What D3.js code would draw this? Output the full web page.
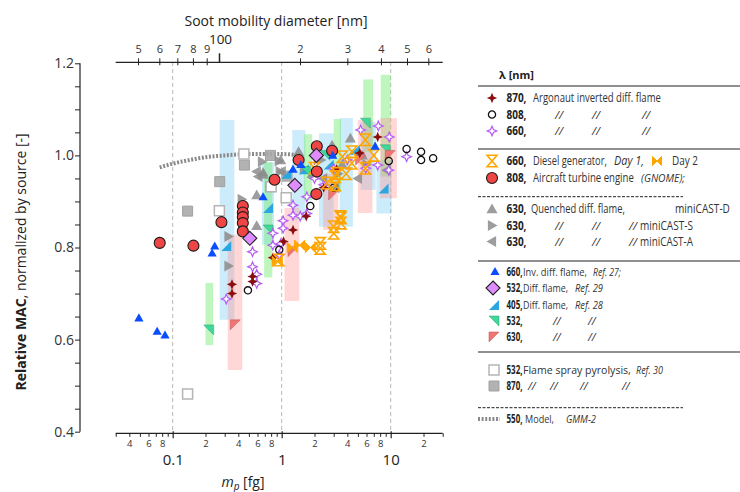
<!DOCTYPE html>
<html><head><meta charset="utf-8">
<script src="https://cdn.jsdelivr.net/npm/d3@7"></script>
<style>body{margin:0;background:#fff}svg{display:block;font-family:"Open Sans",sans-serif}</style>
</head><body><svg id="c" width="740" height="492"></svg>
<script>
// ---------------- DATA: [particle mass m_p (fg), relative MAC] ----------------
const argonaut870 = [[0.35,0.72],[0.35,0.70],[0.54,0.737],[0.54,0.726],[0.83,0.778],[1.04,0.813],[1.27,0.838],[1.68,0.868],[2.43,0.93],[5.2,1.005],[7.6,1.04],[3.2,0.97]];
const argonaut808 = [[0.49,0.707],[0.95,0.795],[1.83,0.89],[3.0,0.93],[9.6,0.988],[14,1.014],[19,1.008],[19,0.99],[24.5,0.994]];
const argonaut660 = [[0.31,0.688],[0.54,0.791],[0.54,0.758],[0.59,0.742],[0.59,0.722],[0.83,0.831],[0.83,0.805],[0.95,0.784],[0.98,0.808],[1.03,0.858],[1.03,0.842],[1.27,0.892],[1.27,0.87],[1.48,0.868],[1.7,0.91],[1.7,0.874],[2.43,0.936],[3.0,0.972],[5.3,1.055],[7.7,1.064],[9.7,1.04],[7.6,0.979],[5.9,0.972],[9.6,0.968],[14,0.997],[2.0,0.95],[4.0,0.99]];
const dieselDay1 = [[0.94,0.773],[2.26,0.809],[2.26,0.798],[3.0,0.831],[3.0,0.845],[3.5,0.864],[3.5,0.853],[3.1,0.936],[3.1,0.954],[2.0,0.972],[3.2,0.961],[3.6,0.997],[4.4,1.008],[4.4,0.983],[5.85,1.034],[5.85,0.972],[7.0,1.0],[3.45,0.867],[2.6,0.94],[3.9,0.96]];
const dieselDay2 = [[0.91,0.77],[1.46,0.805],[1.83,0.80],[1.25,0.80]];
const aircraft808 = [[0.076,0.81],[0.155,0.804],[0.28,0.855],[0.44,0.89],[0.44,0.876],[0.44,0.866],[0.44,0.853],[0.44,0.835],[0.86,0.947],[1.43,0.99],[2.1,1.02],[2.1,0.965],[2.08,0.916],[2.9,1.01]];
const miniCastD = [[0.675,0.963],[0.59,0.914],[0.59,0.847],[0.675,0.958],[1.43,1.008],[0.98,0.99],[2.9,1.022],[4.27,1.037],[1.9,0.96],[3.6,0.98],[5.5,1.0]];
const miniCastS = [[0.325,0.824],[0.325,0.76],[0.43,0.905],[0.66,0.986],[0.94,0.988],[0.96,0.965],[1.6,0.97],[2.3,0.99],[3.3,0.96],[6.0,0.98]];
const miniCastA = [[0.61,0.954],[0.59,0.965],[1.0,0.965],[9.2,0.968],[3.1,0.93],[2.4,0.95],[5.0,0.95]];
const invDiff660 = [[0.049,0.647],[0.072,0.618],[0.085,0.61],[0.243,0.803],[0.23,0.788],[0.675,0.91],[1.27,0.97],[2.94,1.0],[7.2,1.02],[1.5,0.98]];
const diff532ref29 = [[0.51,0.82],[1.32,0.935],[2.08,1.0]];
const diff405ref28 = [[0.31,0.803],[0.75,0.886],[8.6,0.928],[4.7,1.012],[1.6,0.97],[2.7,0.98],[1.1,0.96]];
const diff532ref28 = [[0.214,0.621],[0.75,0.838],[1.65,0.965],[5.85,1.07],[8.9,1.012],[2.5,1.0]];
const diff630ref28 = [[0.375,0.632],[1.27,0.791],[3.0,0.914],[9.9,1.0],[2.2,0.99],[5.3,0.99]];
const fsp532 = [[0.137,0.482],[0.268,0.88],[0.45,1.003],[0.8,0.932],[1.1,0.908]];
const fsp870 = [[0.137,0.879],[0.27,0.943],[0.455,0.979],[0.79,1.0],[0.79,0.932],[1.12,0.955]];
const modelGMM2 = [[0.076,0.974],[0.1,0.982],[0.15,0.991],[0.2,0.996],[0.3,1.0],[0.5,1.003],[1.0,1.003],[1.5,1.0]];
// range bars: [m low, m high, MAC low, MAC high]
const barsBlue = [[0.27,0.368,0.643,1.077],[0.66,0.85,0.806,0.985],[1.25,1.65,0.86,1.055],[2.2,3.0,0.845,1.048],[3.4,4.5,0.845,1.081],[5.3,7.3,0.925,1.073],[7.4,10.2,0.874,0.99]];
const barsGreen = [[0.2,0.235,0.588,0.723],[0.69,0.82,0.735,0.985],[1.6,1.9,0.903,1.046],[3.0,3.5,0.921,1.079],[5.6,6.9,1.008,1.165],[8.1,10,0.954,1.175]];
const barsPink = [[0.32,0.435,0.534,0.828],[1.06,1.45,0.684,0.886],[2.4,3.3,0.838,0.96],[5.0,6.8,0.875,1.077],[8.0,11.4,0.907,1.081]];
// tick labels
const yTicks = [0.4,0.6,0.8,1.0,1.2];
const xMajor = [0.1,1,10];
const xMinor = [0.03,0.04,0.05,0.06,0.07,0.08,0.09,0.2,0.3,0.4,0.5,0.6,0.7,0.8,0.9,2,3,4,5,6,7,8,9,20,30];
const topTicks = [50,60,70,80,90,100,200,300,400,500,600];

// ---------------- SCALES ----------------
const svg = d3.select("#c");
const x = d3.scaleLog().domain([0.03,30]).range([115.7,442.7]);
const y = d3.scaleLinear().domain([0.4,1.2]).range([431.7,63.3]);
const xTop = d3.scaleLog().domain([41.3,678.7]).range([115.7,442.7]);

// grid lines
svg.append("g").selectAll("line").data(xMajor).join("line")
  .attr("x1",d=>x(d)).attr("x2",d=>x(d)).attr("y1",62).attr("y2",433)
  .attr("stroke","#b8b8b8").attr("stroke-dasharray","4,3").attr("stroke-width",1);

// bars
const bars = svg.append("g");
function drawBars(arr, col){
  bars.append("g").selectAll("rect").data(arr).join("rect")
    .attr("x",d=>x(d[0])).attr("width",d=>x(d[1])-x(d[0]))
    .attr("y",d=>y(d[3])).attr("height",d=>y(d[2])-y(d[3]))
    .attr("fill",col);
}
drawBars(barsBlue,"rgba(120,205,245,0.38)");
drawBars(barsGreen,"rgba(110,235,110,0.45)");
drawBars(barsPink,"rgba(255,150,150,0.38)");

// model curve
svg.append("path").datum(modelGMM2)
  .attr("d", d3.line().x(d=>x(d[0])).y(d=>y(d[1])).curve(d3.curveMonotoneX))
  .attr("fill","none").attr("stroke","#8a8a8a").attr("stroke-width",4).attr("stroke-dasharray","2,1.6");

// symbols
const S = {
  star4: r=>{const i=r*0.3;return `M0,${-r}L${i},${-i}L${r},0L${i},${i}L0,${r}L${-i},${i}L${-r},0L${-i},${-i}Z`;},
  circle: r=>`M${r},0A${r},${r},0,1,1,${-r},0A${r},${r},0,1,1,${r},0Z`,
  triU: r=>`M0,${-r}L${r},${r*0.75}L${-r},${r*0.75}Z`,
  triR: r=>`M${r},0L${-r*0.75},${r}L${-r*0.75},${-r}Z`,
  triL: r=>`M${-r},0L${r*0.75},${r}L${r*0.75},${-r}Z`,
  sq: r=>`M${-r},${-r}H${r}V${r}H${-r}Z`,
  diam: r=>`M0,${-r}L${r},0L0,${r}L${-r},0Z`,
  hour: r=>`M${-r},${-r*1.15}H${r}L${-r},${r*1.15}H${r}Z`,
  bow: r=>`M${-r},${-r}L${r},${r}V${-r}L${-r},${r}Z`,
  hcyan: r=>`M${r},${-r}V${r}H${-r}Z`,
  hgreen: r=>`M${-r},${-r}H${r}V${r}Z`,
  hpink: r=>`M${-r},${-r}H${r}L${-r},${r}Z`
};
const styles = {
  fsp870:{s:"sq",r:5,fill:"#aaaaaa",stroke:"#999",sw:1,op:0.9},
  fsp532:{s:"sq",r:5,fill:"#fff",stroke:"#b5b5b5",sw:1.5,op:1},
  castD:{s:"triU",r:5.5,fill:"#8c8c8c",stroke:"none",sw:0,op:0.85},
  castS:{s:"triR",r:5.5,fill:"#8c8c8c",stroke:"none",sw:0,op:0.85},
  castA:{s:"triL",r:5.5,fill:"#8c8c8c",stroke:"none",sw:0,op:0.85},
  cyan:{s:"hcyan",r:5,fill:"#2aa6e0",stroke:"none",sw:0,op:1},
  green:{s:"hgreen",r:5,fill:"#3fd89a",stroke:"#2fa070",sw:0.5,op:1},
  pink:{s:"hpink",r:5,fill:"#f07575",stroke:"#c05050",sw:0.5,op:1},
  pstar:{s:"star4",r:4.8,fill:"#fff",stroke:"#b55cf5",sw:1.2,op:1},
  rstar:{s:"star4",r:5.2,fill:"#8b0d0d",stroke:"none",sw:0,op:1},
  bcirc:{s:"circle",r:3.6,fill:"none",stroke:"#111",sw:1.3,op:1},
  hour:{s:"hour",r:5,fill:"none",stroke:"#ffa500",sw:1.6,op:1},
  bow:{s:"bow",r:5,fill:"#ffa500",stroke:"#ffa500",sw:1,op:1},
  red:{s:"circle",r:5.5,fill:"#f04545",stroke:"#1a1a1a",sw:1.1,op:1},
  diam:{s:"diam",r:7,fill:"#e08cff",stroke:"#222",sw:1.1,op:1},
  blue:{s:"triU",r:4.6,fill:"#0a4dff",stroke:"none",sw:0,op:1}
};
function drawSeries(arr, st){
  const o = styles[st];
  svg.append("g").selectAll("path").data(arr).join("path")
    .attr("transform",d=>`translate(${x(d[0])},${y(d[1])})`)
    .attr("d",S[o.s](o.r)).attr("fill",o.fill).attr("stroke",o.stroke)
    .attr("stroke-width",o.sw).attr("opacity",o.op);
}
drawSeries(fsp870,"fsp870");
drawSeries(fsp532,"fsp532");
drawSeries(miniCastD,"castD");
drawSeries(miniCastS,"castS");
drawSeries(miniCastA,"castA");
drawSeries(diff405ref28,"cyan");
drawSeries(diff532ref28,"green");
drawSeries(diff630ref28,"pink");
drawSeries(argonaut660,"pstar");
drawSeries(argonaut870,"rstar");
drawSeries(argonaut808,"bcirc");
drawSeries(dieselDay1,"hour");
drawSeries(dieselDay2,"bow");
drawSeries(aircraft808,"red");
drawSeries(diff532ref29,"diam");
drawSeries(invDiff660,"blue");

// ---------------- AXES ----------------
const txtCol = "#222";
// left axis
const yAx = svg.append("g").attr("transform","translate(80,0)")
  .call(d3.axisLeft(y).tickValues(d3.range(0.4,1.2001,0.05)).tickSize(5)
    .tickFormat(d=> yTicks.some(t=>Math.abs(t-d)<1e-6) ? d3.format(".1f")(d) : ""));
yAx.select(".domain").attr("d","M0,63.3V431.7").attr("stroke","#222").attr("stroke-width",1.2);
yAx.selectAll(".tick line").attr("stroke","#222");
yAx.selectAll(".tick text").attr("font-size",14).attr("fill","#333").attr("x",-6)
  .attr("font-family","Open Sans, sans-serif");
svg.append("text").attr("transform","translate(26,262) rotate(-90)").attr("text-anchor","middle")
  .attr("font-size",14).attr("fill",txtCol)
  .call(t=>{t.append("tspan").attr("font-weight","bold").text("Relative MAC");
            t.append("tspan").text(", normalized by source [-]");});

// bottom axis (minor)
const minorLab = d=>{const s=d3.format("~g")(d); const c=s.replace(/[0.]/g,"").charAt(0); return ["2","4","6","8"].includes(c)? c:"";};
const bAx = svg.append("g").attr("transform","translate(0,433.3)")
  .call(d3.axisBottom(x).tickValues(xMinor).tickSize(3.5).tickPadding(3).tickFormat(minorLab));
bAx.select(".domain").attr("d","M115.7,0H442.7").attr("stroke","#222").attr("stroke-width",1.2);
bAx.selectAll(".tick line").attr("stroke","#222");
bAx.selectAll(".tick text").attr("font-size",9.5).attr("fill","#333");
const bMaj = svg.append("g").attr("transform","translate(0,433.3)")
  .call(d3.axisBottom(x).tickValues(xMajor).tickSize(5).tickPadding(16).tickFormat(d3.format("~g")));
bMaj.select(".domain").remove();
bMaj.selectAll(".tick line").attr("y1",-2).attr("stroke","#222").attr("stroke-width",1.2);
bMaj.selectAll(".tick text").attr("font-size",15).attr("fill","#222");
svg.append("text").attr("x",243).attr("y",487).attr("text-anchor","middle").attr("font-size",14).attr("fill",txtCol)
  .call(t=>{t.append("tspan").attr("font-style","italic").text("m");
            t.append("tspan").attr("font-style","italic").attr("font-size",10).attr("dy",3).text("p");
            t.append("tspan").attr("dy",-3).text(" [fg]");});

// top axis
const tAx = svg.append("g").attr("transform","translate(0,62.3)")
  .call(d3.axisTop(xTop).tickValues(topTicks).tickSize(4).tickPadding(5)
    .tickFormat(d=> d===100 ? "" : String(d).charAt(0)));
tAx.select(".domain").attr("d","M115.7,0H442.7").attr("stroke","#222").attr("stroke-width",1.2);
tAx.selectAll(".tick line").attr("y2",-4).attr("y1",3).attr("stroke","#222");
tAx.selectAll(".tick").filter(d=>d===100).select("line").attr("y2",-9).attr("y1",0).attr("stroke-width",1.5);
tAx.selectAll(".tick text").attr("font-size",11).attr("fill","#333");
svg.append("text").attr("x",xTop(100)+1.5).attr("y",44).attr("text-anchor","middle").attr("font-size",13.5).attr("fill",txtCol).text("100");
svg.append("text").attr("x",276).attr("y",26).attr("text-anchor","middle").attr("font-size",14).attr("fill",txtCol).text("Soot mobility diameter [nm]");
svg.selectAll(".tick text").attr("font-family","Open Sans, sans-serif");

// ---------------- LEGEND ----------------
const L = svg.append("g").attr("font-size",11).attr("fill","#333");
L.append("text").attr("x",499).attr("y",79).attr("font-weight","bold").attr("font-size",11).attr("fill","#222").text("λ [nm]");
[86,149,261,352].forEach(v=>L.append("line").attr("x1",478).attr("x2",740).attr("y1",v).attr("y2",v).attr("stroke","#222").attr("stroke-width",1.2));
[196.7,407.7].forEach(v=>L.append("line").attr("x1",478).attr("x2",683).attr("y1",v).attr("y2",v).attr("stroke","#222").attr("stroke-width",1).attr("stroke-dasharray","3,1.5"));
// place a text at (x,y), squeezed horizontally to a target width
function putText(px, py, str, size, target, opts){
  const t = L.append("text").attr("x",0).attr("y",0).attr("font-size",size).text(str);
  if(opts && opts.italic) t.attr("font-style","italic");
  if(opts && opts.bold) t.attr("font-weight","bold").attr("fill","#222");
  let k = 1;
  if(target){ const w = t.node().getComputedTextLength(); if(w>0) k = Math.min(1.1, target/w); }
  t.attr("transform",`translate(${px},${py}) scale(${k},1)`);
  return t;
}
// each text part: [x, text, italic, font size, target width]
const rows = [
 {y:98,st:"rstar",mx:492,b:"870,",bw:20,p:[[533,"Argonaut inverted diff. flame",0,12.5,128]]},
 {y:114.5,st:"bcirc",mx:492,b:"808,",bw:20,p:[[555,"//",1,11.5],[592,"//",1,11.5],[642,"//",1,11.5]]},
 {y:131,st:"pstar",mx:492,b:"660,",bw:20,p:[[555,"//",1,11.5],[592,"//",1,11.5],[642,"//",1,11.5]]},
 {y:161,st:"hour",mx:492,b:"660,",bw:20,p:[[533,"Diesel generator,",0,12.5,74],[614,"Day 1,",1,12,30],[672,"Day 2",0,12.5,26]]},
 {y:178,st:"red",mx:492,b:"808,",bw:20,p:[[533,"Aircraft turbine engine",0,12.5,101],[641,"(GNOME);",1,10.5,44]]},
 {y:209,st:"castD",mx:492,b:"630,",bw:20,p:[[531,"Quenched diff. flame,",0,12.5,94],[675,"miniCAST-D",0,12.5,55]]},
 {y:225.5,st:"castS",mx:492,b:"630,",bw:20,p:[[555,"//",1,11.5],[592,"//",1,11.5],[629,"//",1,11.5],[640,"miniCAST-S",0,12.5,53]]},
 {y:241.5,st:"castA",mx:492,b:"630,",bw:20,p:[[555,"//",1,11.5],[592,"//",1,11.5],[629,"//",1,11.5],[640,"miniCAST-A",0,12.5,53]]},
 {y:271.5,st:"blue",mx:495,b:"660,",bw:16,p:[[523,"Inv. diff. flame,",0,11,64],[593,"Ref. 27;",1,10.5,28]]},
 {y:288,st:"diam",mx:493,b:"532,",bw:16,p:[[523,"Diff. flame,",0,11,45],[575,"Ref. 29",1,10.5,28]]},
 {y:305,st:"cyan",mx:494,b:"405,",bw:16,p:[[523,"Diff. flame,",0,11,45],[575,"Ref. 28",1,10.5,28]]},
 {y:321,st:"green",mx:494,b:"532,",bw:16,p:[[553,"//",1,11],[588,"//",1,11]]},
 {y:337,st:"pink",mx:494,b:"630,",bw:16,p:[[553,"//",1,11],[588,"//",1,11]]},
 {y:370,st:"fsp532",mx:494,b:"532,",bw:16,p:[[523,"Flame spray pyrolysis,",0,11,108],[636,"Ref. 30",1,10.5,27]]},
 {y:386,st:"fsp870",mx:494,b:"870,",bw:16,p:[[528,"//",1,11],[550,"//",1,11],[580,"//",1,11],[622,"//",1,11]]},
 {y:419,st:null,mx:492,b:"550,",bw:16,p:[[525,"Model,",0,11,29],[566,"GMM-2",1,10.5,30]]}
];
rows.forEach(r=>{
  if(r.st){const o=styles[r.st];
    L.append("path").attr("transform",`translate(${r.mx},${r.y})`).attr("d",S[o.s](o.r))
      .attr("fill",o.fill).attr("stroke",o.stroke).attr("stroke-width",o.sw).attr("opacity",o.op);
  } else {
    L.append("line").attr("x1",478).attr("x2",500).attr("y1",r.y).attr("y2",r.y)
      .attr("stroke","#8a8a8a").attr("stroke-width",4).attr("stroke-dasharray","2,1.6");
  }
  putText(506.5, r.y+4, r.b, r.bw===20?12.5:11.5, r.bw, {bold:true});
  r.p.forEach(p=>putText(p[0], r.y+4, p[1], p[3]||11, p[4], {italic:!!p[2]}));
});
// Day 2 bowtie in legend
L.append("path").attr("transform","translate(657,161)").attr("d",S.bow(4.5)).attr("fill","#ffa500").attr("stroke","#ffa500");
</script></body></html>
